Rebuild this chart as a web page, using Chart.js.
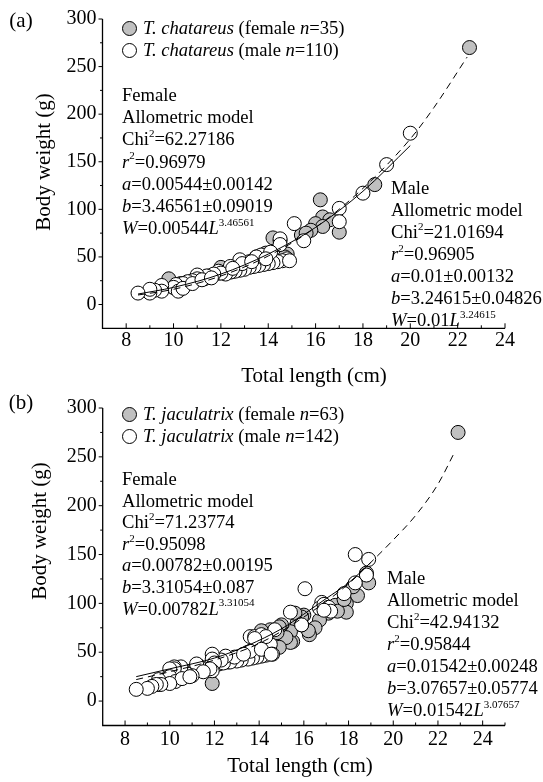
<!DOCTYPE html>
<html>
<head>
<meta charset="utf-8">
<script src="https://cdn.jsdelivr.net/npm/chart.js@4.4.1/dist/chart.umd.min.js"></script>
<style>
  body { margin: 0; background: #fff; }
  #page { position: relative; width: 543px; height: 782px; overflow: hidden;
          font-family: 'Liberation Serif', 'Times New Roman', serif; color: #000; }
  canvas { position: absolute; left: 0; }
  .blk { position: absolute; font-size: 18.6px; white-space: nowrap; }
  .blk sup { font-size: 11px; line-height: 0; position: relative; top: -1px; }
  .leg div { display: flex; align-items: center; height: 22px; }
  .dot { display: inline-block; width: 13px; height: 13px; border: 1px solid #000;
         border-radius: 50%; margin-right: 6px; box-sizing: content-box; flex: none; }
  .dot.f { background: #c0c0c0; }
  .dot.m { background: #fff; }
  .ttl { position: absolute; font-size: 21px; white-space: nowrap; transform: translate(-50%, -50%); }
  .ttl.rot { transform: translate(-50%, -50%) rotate(-90deg); }
  .tag { position: absolute; font-size: 21px; transform: translate(-50%, -50%); }
</style>
</head>
<body>
<div id="page">
  <canvas id="chartA" width="543" height="390" style="top:0"></canvas>
  <canvas id="chartB" width="543" height="392" style="top:390px"></canvas>

  <div class="tag" style="left:21px;top:20px">(a)</div>
  <div class="blk leg" style="left:122px;top:17px">
    <div><span class="dot f"></span><span><i>T. chatareus</i> (female <i>n</i>=35)</span></div>
    <div><span class="dot m"></span><span><i>T. chatareus</i> (male <i>n</i>=110)</span></div>
  </div>
  <div class="blk" style="left:122px;top:84px;line-height:22.2px">
    Female<br>Allometric model<br>Chi<sup>2</sup>=62.27186<br><i>r</i><sup>2</sup>=0.96979<br>
    <i>a</i>=0.00544±0.00142<br><i>b</i>=3.46561±0.09019<br><i>W</i>=0.00544<i>L</i><sup>3.46561</sup>
  </div>
  <div class="blk" style="left:391px;top:177px;line-height:22px">
    Male<br>Allometric model<br>Chi<sup>2</sup>=21.01694<br><i>r</i><sup>2</sup>=0.96905<br>
    <i>a</i>=0.01±0.00132<br><i>b</i>=3.24615±0.04826<br><i>W</i>=0.01<i>L</i><sup>3.24615</sup>
  </div>
  <div class="ttl rot" style="left:43px;top:162px">Body weight (g)</div>
  <div class="ttl" style="left:314px;top:375px">Total length (cm)</div>

  <div class="tag" style="left:21px;top:402px">(b)</div>
  <div class="blk leg" style="left:122px;top:403px">
    <div><span class="dot f"></span><span><i>T. jaculatrix</i> (female <i>n</i>=63)</span></div>
    <div><span class="dot m"></span><span><i>T. jaculatrix</i> (male <i>n</i>=142)</span></div>
  </div>
  <div class="blk" style="left:122px;top:468px;line-height:21.6px">
    Female<br>Allometric model<br>Chi<sup>2</sup>=71.23774<br><i>r</i><sup>2</sup>=0.95098<br>
    <i>a</i>=0.00782±0.00195<br><i>b</i>=3.31054±0.087<br><i>W</i>=0.00782<i>L</i><sup>3.31054</sup>
  </div>
  <div class="blk" style="left:387px;top:567px;line-height:22px">
    Male<br>Allometric model<br>Chi<sup>2</sup>=42.94132<br><i>r</i><sup>2</sup>=0.95844<br>
    <i>a</i>=0.01542±0.00248<br><i>b</i>=3.07657±0.05774<br><i>W</i>=0.01542<i>L</i><sup>3.07657</sup>
  </div>
  <div class="ttl rot" style="left:39px;top:531px">Body weight (g)</div>
  <div class="ttl" style="left:300px;top:765px">Total length (cm)</div>
</div>

<script>
/* ── data ── */
const Y_TICKS = [0, 50, 100, 150, 200, 250, 300];
const Y_MINOR = [25, 75, 125, 175, 225, 275];
const X_TICKS = [8, 10, 12, 14, 16, 18, 20, 22, 24];
const X_MINOR_A = [9, 11, 13, 15, 17, 19, 21, 23];
const X_MINOR_B = [9, 11, 13, 15, 17, 19, 21, 23, 25];

// (a) T. chatareus
const A_FEMALE_X = [22.5,18.5,16.2,16.3,16.6,16.0,16.3,15.8,17.0,15.4,15.6,14.2,14.5,14.8,14.7,13.9,13.5,13.2,12.8,12.2,12.0,11.9,11.5,11.0,10.6,10.3,9.8,10.0,9.5,11.3,12.5,14.0];
const A_FEMALE_Y = [270,126,110,92,89,85,82,78,76,73,75,70,67,53,50,54,50,45,42,37,39,33,30,28,23,22,27,18,16,27,35,48];
const A_MALE_X = [20.0,19.0,18.0,17.0,17.0,15.1,15.5,14.5,14.5,14.8,14.6,14.4,14.2,14.0,13.8,13.6,13.4,13.2,13.0,12.8,12.6,12.4,12.2,13.7,13.5,12.8,12.9,12.4,11.9,12.0,11.7,11.4,11.0,11.0,10.8,10.6,10.4,10.1,10.0,10.2,10.4,9.5,9.5,9.2,9.0,9.0,8.5,10.8,11.2,11.6,13.3,14.1,13.9,12.5,14.9];
const A_MALE_Y = [180,147,117,101,87,85,67,69,63,48,46,45,44,43,42,41,40,39,37,36,35,34,32,52,50,47,43,40,35,33,32,30,31,27,25,24,22,21,18,14,17,20,14,15,12,16,12,22,26,28,45,55,48,38,46];
const A_FFIT_X = [8.5, 10, 12, 14, 16, 18, 20, 21, 22.4];
const A_FFIT_Y = [10, 16, 30, 51, 81, 122, 174, 207, 260];
const A_MFIT_X = [8.5, 10, 12, 14, 16, 18, 20];
const A_MFIT_Y = [11, 18, 32, 53, 81, 119, 167];

// (b) T. jaculatrix
const B_FEMALE_X = [22.9,18.9,18.8,18.4,18.2,17.9,17.9,17.4,17.5,17.1,16.7,16.5,16.25,16.2,16.0,15.9,15.9,15.7,15.6,15.5,15.4,15.4,15.2,15.0,14.9,14.9,14.8,14.5,14.3,14.1,13.5,13.0,12.6,12.2,11.9,11.5,10.8,10.2,9.5,17.8];
const B_FEMALE_Y = [275,121,131,108,117,100,91,98,92,90,83,75,68,72,88,78,86,80,90,61,71,60,65,78,76,55,70,73,62,72,50,45,40,38,18,32,30,27,17,104];
const B_MALE_X = [18.3,18.9,18.8,18.3,17.8,16.8,16.7,16.9,17.1,17.2,16.9,16.05,15.4,15.9,14.7,14.5,14.6,14.3,14.1,13.9,13.7,13.5,13.2,13.0,12.7,12.4,13.6,13.8,14.1,14.3,13.8,13.6,14.1,14.54,12.9,13.3,12.5,12.3,11.9,11.9,12.0,11.9,11.8,11.3,11.2,11.5,11.0,10.75,10.5,10.2,10.2,10.0,9.9,10.0,10.25,10.55,10.9,10.0,9.5,9.6,9.4,9.2,9.0,8.5];
const B_MALE_Y = [150,145,129,121,110,101,95,99,96,92,93,115,91,78,73,58,48,47,46,45,44,43,42,41,40,39,66,66,68,66,64,51,53,48,45,48,46,42,48,43,39,31,33,36,38,30,26,28,35,35,33,33,24,25,20,23,25,18,22,17,17,15,13,12];
const B_FFIT_X = [8.5, 10, 12, 14, 16, 18, 19, 20, 21, 22, 22.75];
const B_FFIT_Y = [22, 30, 42, 59, 86, 120, 142, 165, 190, 222, 255];
const B_MFIT_X = [8.5, 10, 12, 13.5, 15, 16, 17, 18, 19];
const B_MFIT_Y = [25, 33, 44, 57, 74, 89, 105, 121, 142];

const FONT = 'Liberation Serif';
const FEMALE_FILL = '#c0c0c0';

const pts = (xs, ys) => xs.map((x, i) => ({ x, y: ys[i] }));

function scatterSet(xs, ys, fill, order) {
  return {
    data: pts(xs, ys),
    pointRadius: 7,
    pointBorderWidth: 1,
    pointBorderColor: '#000',
    pointBackgroundColor: fill,
    showLine: false,
    order,
  };
}

function fitSet(xs, ys, dash) {
  return {
    data: pts(xs, ys),
    showLine: true,
    pointRadius: 0,
    borderColor: '#000',
    borderWidth: 1,
    borderDash: dash,
    cubicInterpolationMode: 'monotone',
    order: 0,
  };
}

/* axis lines + ticks: ticks on x point up, ticks on y point left */
const axesPlugin = {
  id: 'axes',
  beforeDatasetsDraw(chart, args, opts) {
    const { ctx, chartArea: a, scales: { x, y } } = chart;
    const top = y.getPixelForValue(300);
    ctx.save();
    ctx.strokeStyle = '#000';
    ctx.lineWidth = 1.3;
    ctx.beginPath();
    ctx.moveTo(a.left, top);
    ctx.lineTo(a.left, a.bottom);
    ctx.lineTo(a.right, a.bottom);
    ctx.stroke();
    ctx.lineWidth = 1;
    ctx.beginPath();
    X_TICKS.forEach(v => { const p = x.getPixelForValue(v); ctx.moveTo(p, a.bottom); ctx.lineTo(p, a.bottom - 5); });
    opts.xMinor.forEach(v => { const p = x.getPixelForValue(v); ctx.moveTo(p, a.bottom); ctx.lineTo(p, a.bottom - 3); });
    Y_TICKS.forEach(v => { const p = y.getPixelForValue(v); ctx.moveTo(a.left, p); ctx.lineTo(a.left - 4, p); });
    Y_MINOR.forEach(v => { const p = y.getPixelForValue(v); ctx.moveTo(a.left, p); ctx.lineTo(a.left - 2.5, p); });
    ctx.stroke();
    ctx.restore();
  }
};

function makeChart(id, datasets, xMax, xMinor, padTop, yWidth, xHeight, xPad) {
  const tickFont = { family: FONT, size: 20 };
  return new Chart(document.getElementById(id), {
    type: 'scatter',
    data: { datasets },
    plugins: [axesPlugin],
    options: {
      responsive: false,
      animation: false,
      events: [],
      layout: { padding: { top: padTop, right: 38, left: 0, bottom: 0 } },
      plugins: { legend: { display: false }, tooltip: { enabled: false }, axes: { xMinor } },
      scales: {
        x: {
          type: 'linear', min: 7, max: xMax,
          grid: { display: false, drawTicks: false },
          border: { display: false },
          ticks: { font: tickFont, color: '#000', padding: xPad, autoSkip: false, maxRotation: 0 },
          afterBuildTicks: s => { s.ticks = X_TICKS.map(v => ({ value: v })); },
          afterFit: s => { s.height = xHeight; },
        },
        y: {
          type: 'linear', min: -25, max: 300,
          grid: { display: false, drawTicks: false },
          border: { display: false },
          ticks: { font: tickFont, color: '#000', padding: 6 },
          afterBuildTicks: s => { s.ticks = Y_TICKS.map(v => ({ value: v })); },
          afterFit: s => { s.width = yWidth; },
        }
      }
    }
  });
}

makeChart('chartA', [
  fitSet(A_FFIT_X, A_FFIT_Y, [7, 5]),
  fitSet(A_MFIT_X, A_MFIT_Y, []),
  scatterSet(A_MALE_X, A_MALE_Y, '#fff', 1),
  scatterSet(A_FEMALE_X, A_FEMALE_Y, FEMALE_FILL, 2),
], 24, X_MINOR_A, 19, 102.5, 61.7, 0);

makeChart('chartB', [
  fitSet(B_FFIT_X, B_FFIT_Y, [7, 5]),
  fitSet(B_MFIT_X, B_MFIT_Y, []),
  scatterSet(B_MALE_X, B_MALE_Y, '#fff', 1),
  scatterSet(B_FEMALE_X, B_FEMALE_Y, FEMALE_FILL, 2),
], 25, X_MINOR_B, 14, 102.7, 56.5, 2);
</script>
</body>
</html>
